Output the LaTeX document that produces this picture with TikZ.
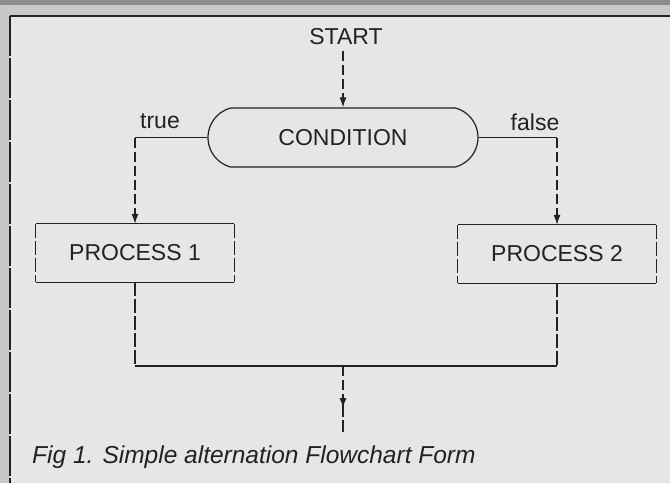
\documentclass[tikz,border=0pt]{standalone}
\usepackage{fontspec}
\setmainfont{Liberation Sans}
\usetikzlibrary{arrows.meta,shapes.misc,positioning}
\definecolor{paper}{HTML}{E6E6E4}
\definecolor{margin}{HTML}{C8C8C6}
\definecolor{band}{HTML}{8C8C8A}
\definecolor{ink}{HTML}{222222}
\tikzset{
  flow/.style={ink, line width=1.2pt, dash pattern=on 10pt off 4pt, -{Latex[length=10pt,width=7pt]}},
  vline/.style={ink, line width=1.2pt, dash pattern=on 14pt off 3pt},
  hline/.style={ink, line width=1.2pt},
  boxtext/.style={inner sep=0pt, font=\fontsize{23}{25}\selectfont, text=ink},
  condbox/.style={rounded rectangle, rounded rectangle arc length=150, draw=ink, line width=1.2pt,
    minimum width=270pt, minimum height=59pt, inner sep=0pt, font=\fontsize{23}{25}\selectfont, text=ink},
  procbox/.style={minimum width=198pt, minimum height=58pt, inner sep=0pt,
    font=\fontsize{23}{25}\selectfont, text=ink}
}
\begin{document}
\begin{tikzpicture}[x=1pt, y=-1pt]
			%%%%% START %%%%%
			\useasboundingbox (0,0) rectangle (670,483);
			\fill[margin] (0,0) rectangle (670,483);
			\fill[band] (0,0) rectangle (670,5);
			\fill[paper] (10,16) rectangle (670,483);
			\draw[hline] (670,16) -- (10,16);
			\draw[ink, line width=1.2pt, dash pattern=on 40pt off 2pt] (10,16) -- (10,483);
			
			\node[boxtext] (start) at (346,37) {START};
			\node[condbox] (cond) at (343,137.5) {CONDITION};
			\node[procbox] (p1) at (135,253) {PROCESS 1};
			\node[procbox] (p2) at (557,254) {PROCESS 2};
			
			% box outlines: flat edges solid, upright edges broken
			\draw[hline] (p1.north west) -- (p1.north east);
			\draw[hline] (p1.south west) -- (p1.south east);
			\draw[vline] (p1.north west) -- (p1.south west);
			\draw[vline] (p1.north east) -- (p1.south east);
			\draw[hline] (p2.north west) -- (p2.north east);
			\draw[hline] (p2.south west) -- (p2.south east);
			\draw[vline] (p2.north west) -- (p2.south west);
			\draw[vline] (p2.north east) -- (p2.south east);
			
			\coordinate (s0) at ([yshift=-6pt]cond.north |- start.south);
			\draw[flow] (s0) -- (cond.north);
			
			\coordinate (tl) at (p1.north |- cond.west);
			\coordinate (fl) at (p2.north |- cond.east);
			\draw[hline] (cond.west) -- (tl);
			\draw[hline] (cond.east) -- (fl);
			\draw[flow] (tl) -- (p1.north);
			\draw[flow] (fl) -- (p2.north);
			\node[boxtext, anchor=base] (yes) at (160,128) {true};
			\node[boxtext, anchor=base] (no) at (535,130) {false};
			
			\coordinate (j1) at (p1.south |- 0,366);
			\coordinate (j2) at (p2.south |- 0,366);
			\coordinate (jm) at (cond.south |- 0,366);
			\coordinate (tip) at (cond.south |- 0,408);
			\coordinate (tail) at (cond.south |- 0,432);
			\draw[vline] (p1.south) -- (j1);
			\draw[vline] (p2.south) -- (j2);
			\draw[hline] (j1) -- (j2);
			\draw[flow] (jm) -- (tip);
			\draw[vline] ([yshift=5pt]tip) -- (tail);
			
			\node[anchor=base west, inner sep=0pt, text=ink, font=\fontsize{24.5}{26}\selectfont\itshape] (cap) at (32,463)
			  {Fig 1. Simple alternation Flowchart Form};
			%%%%% END %%%%%
\end{tikzpicture}
\end{document}
